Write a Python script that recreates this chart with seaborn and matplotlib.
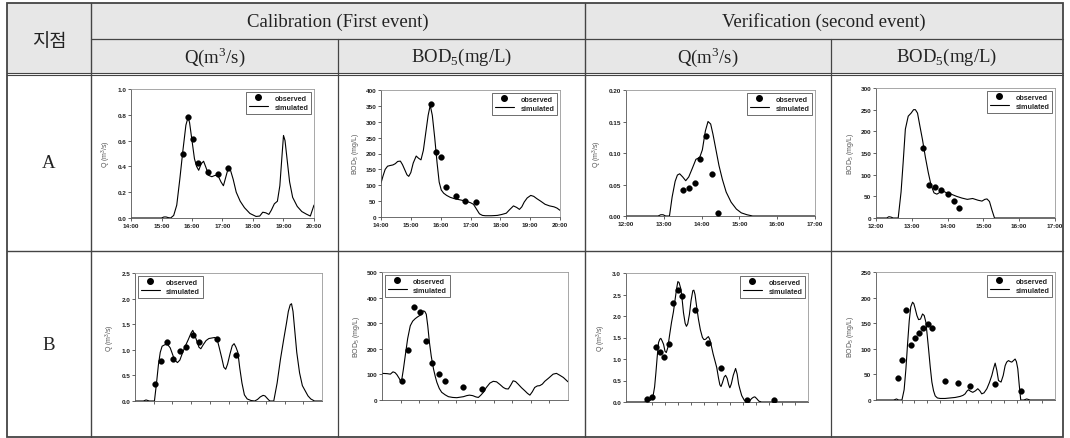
import matplotlib
matplotlib.use("Agg")
import matplotlib.pyplot as plt
import seaborn as sns
from matplotlib.lines import Line2D
from matplotlib.patches import Rectangle

# ------------------------------------------------
# Data
# ------------------------------------------------
# time ticks for site A
cal_hours = [14, 15, 16, 17, 18, 19, 20]
cal_labels = ["14:00", "15:00", "16:00", "17:00", "18:00", "19:00", "20:00"]
ver_hours = [12, 13, 14, 15, 16, 17]
ver_labels = ["12:00", "13:00", "14:00", "15:00", "16:00", "17:00"]

# A - calibration Q
a_cal_q_sim_t = [14.0, 15.0, 15.08, 15.15, 15.22, 15.3, 15.4, 15.5, 15.6, 15.7, 15.8, 15.87, 15.92,
                 16.0, 16.08, 16.15, 16.22, 16.3, 16.38, 16.46, 16.55, 16.65, 16.75, 16.85, 16.95,
                 17.03, 17.1, 17.18, 17.25, 17.35, 17.45, 17.58, 17.72, 17.9, 18.1, 18.22, 18.32,
                 18.42, 18.52, 18.6, 18.7, 18.8, 18.88, 18.95, 19.0, 19.05, 19.12, 19.2, 19.3,
                 19.45, 19.6, 19.75, 19.88, 20.0]
a_cal_q_sim = [0, 0, 0.008, 0.008, 0.003, 0, 0.02, 0.1, 0.3, 0.52, 0.72, 0.78, 0.74,
               0.6, 0.46, 0.4, 0.37, 0.42, 0.44, 0.39, 0.33, 0.32, 0.33, 0.33, 0.28,
               0.25, 0.31, 0.38, 0.38, 0.3, 0.2, 0.13, 0.08, 0.035, 0.012, 0.015, 0.045,
               0.04, 0.028, 0.06, 0.11, 0.13, 0.25, 0.48, 0.64, 0.6, 0.45, 0.28, 0.16,
               0.09, 0.05, 0.03, 0.015, 0.1]
a_cal_q_obs_t = [15.69, 15.87, 16.03, 16.2, 16.53, 16.86, 17.17]
a_cal_q_obs = [0.50, 0.78, 0.61, 0.43, 0.36, 0.34, 0.39]

# A - calibration BOD5
a_cal_b_sim_t = [14.0, 14.07, 14.14, 14.22, 14.3, 14.4, 14.48, 14.56, 14.65, 14.72,
                 14.8, 14.87, 14.93, 15.0, 15.08, 15.18, 15.26, 15.34, 15.42, 15.5,
                 15.58, 15.65, 15.72, 15.8, 15.88, 15.95, 16.02, 16.1, 16.2, 16.32,
                 16.45, 16.6, 16.75, 16.88, 17.0, 17.1, 17.2, 17.3, 17.4, 17.5,
                 17.7, 17.9, 18.05, 18.2, 18.3, 18.44, 18.55, 18.64, 18.72, 18.8,
                 18.9, 19.02, 19.12, 19.22, 19.35, 19.5, 19.65, 19.8, 19.9, 20.0]
a_cal_b_sim = [107, 130, 150, 160, 162, 164, 168, 175, 176, 165,
               148, 133, 128, 140, 170, 192, 185, 180, 210, 265,
               320, 352, 320, 250, 170, 110, 85, 75, 68, 62,
               58, 55, 52, 49, 45, 40, 25, 10, 5, 4,
               4, 5, 8, 12, 22, 35, 30, 24, 32, 47,
               60, 68, 65, 58, 50, 40, 35, 32, 28, 21]
a_cal_b_obs_t = [15.66, 15.85, 16.0, 16.18, 16.5, 16.83, 17.17]
a_cal_b_obs = [357, 205, 190, 94, 65, 51, 48]

# A - verification Q
a_ver_q_sim_t = [12.0, 12.85, 12.92, 12.98, 13.05, 13.15, 13.22, 13.3, 13.36, 13.42,
                 13.5, 13.58, 13.66, 13.75, 13.85, 13.95, 14.02, 14.1, 14.17, 14.24,
                 14.3, 14.38, 14.46, 14.55, 14.65, 14.78, 14.92, 15.05, 15.2, 15.35, 17.0]
a_ver_q_sim = [0, 0, 0.002, 0.002, 0, 0, 0.03, 0.055, 0.065, 0.067,
               0.062, 0.056, 0.062, 0.075, 0.09, 0.093, 0.105, 0.135, 0.150, 0.146,
               0.13, 0.105, 0.08, 0.058, 0.038, 0.022, 0.011, 0.005, 0.002, 0, 0]
a_ver_q_obs_t = [13.5, 13.67, 13.83, 13.97, 14.12, 14.28, 14.44]
a_ver_q_obs = [0.041, 0.044, 0.052, 0.090, 0.127, 0.066, 0.005]

# A - verification BOD5
a_ver_b_sim_t = [12.0, 12.3, 12.36, 12.42, 12.48, 12.62, 12.7, 12.76, 12.82, 12.9,
                 12.98, 13.05, 13.1, 13.16, 13.22, 13.3, 13.38, 13.46, 13.54, 13.62,
                 13.7, 13.8, 13.9, 14.0, 14.1, 14.25, 14.4, 14.55, 14.7, 14.85,
                 14.96, 15.04, 15.1, 15.17, 15.24, 15.31, 17.0]
a_ver_b_sim = [0, 0, 3, 2, 0, 0, 60, 130, 205, 235,
               242, 250, 250, 242, 215, 180, 140, 105, 75, 58,
               55, 60, 61, 57, 55, 50, 46, 43, 45, 41,
               39, 43, 44, 38, 18, 0, 0]
a_ver_b_obs_t = [13.32, 13.49, 13.65, 13.82, 14.0, 14.17, 14.32]
a_ver_b_obs = [162, 76, 72, 65, 56, 39, 22]

# B - calibration Q (unlabelled time steps)
b_cal_q_sim_t = [0, 0.45, 0.59, 0.77, 1.04, 1.15, 1.25, 1.35, 1.45, 1.6,
                 1.75, 1.88, 2.0, 2.12, 2.27, 2.4, 2.55, 2.7, 2.85, 3.0,
                 3.09, 3.18, 3.3, 3.42, 3.52, 3.65, 3.8, 3.95, 4.1, 4.25,
                 4.38, 4.5, 4.64, 4.75, 4.85, 4.95, 5.08, 5.2, 5.3, 5.4,
                 5.5, 5.6, 5.72, 5.85, 6.0, 6.2, 6.4, 6.55, 6.7, 6.85,
                 6.95, 7.05, 7.15, 7.22, 7.42, 7.6, 7.78, 7.95, 8.1, 8.2,
                 8.3, 8.37, 8.45, 8.55, 8.65, 8.8, 8.95, 9.1, 9.25, 9.4,
                 9.6, 9.8, 10.0]
b_cal_q_sim = [0, 0, 0.02, 0, 0, 0.35, 0.7, 0.95, 1.07, 1.1,
               1.1, 1.04, 0.92, 0.8, 0.75, 0.8, 0.95, 1.08, 1.2, 1.33,
               1.38, 1.3, 1.18, 1.05, 1.02, 1.1, 1.18, 1.22, 1.23, 1.24,
               1.22, 1.05, 0.84, 0.66, 0.62, 0.72, 0.92, 1.08, 1.12, 1.05,
               0.95, 0.65, 0.35, 0.12, 0.04, 0.01, 0, 0.03, 0.08, 0.11,
               0.1, 0.06, 0.02, 0, 0, 0.35, 0.82, 1.2, 1.52, 1.75,
               1.88, 1.9, 1.75, 1.35, 0.95, 0.55, 0.3, 0.2, 0.1, 0.04,
               0, 0, 0]
b_cal_q_obs_t = [1.05, 1.38, 1.73, 2.05, 2.41, 2.73, 3.09, 3.41, 4.41, 5.41]
b_cal_q_obs = [0.34, 0.79, 1.15, 0.82, 0.97, 1.05, 1.28, 1.16, 1.21, 0.90]

# B - calibration BOD5
b_cal_b_sim_t = [0, 0.27, 0.45, 0.59, 0.7, 0.8, 0.92, 1.04, 1.15, 1.25,
                 1.38, 1.52, 1.65, 1.79, 1.92, 2.05, 2.15, 2.22, 2.3, 2.38,
                 2.46, 2.55, 2.65, 2.77, 2.87, 2.95, 3.08, 3.21, 3.4, 3.57,
                 3.8, 4.02, 4.2, 4.38, 4.55, 4.7, 4.88, 5.05, 5.18, 5.3,
                 5.45, 5.6, 5.8, 5.98, 6.16, 6.35, 6.52, 6.65, 6.79, 6.92,
                 7.05, 7.18, 7.32, 7.5, 7.68, 7.82, 7.95, 8.08, 8.21, 8.35,
                 8.48, 8.62, 8.75, 8.95, 9.2, 9.38, 9.55, 9.75, 10.0]
b_cal_b_sim = [104, 103, 101, 110, 107, 99, 85, 69, 120, 173,
               240, 290, 308, 318, 325, 331, 338, 348, 346, 335,
               290, 225, 170, 121, 90, 69, 45, 30, 20, 13,
               10, 9, 11, 13, 17, 19, 17, 12, 10, 18,
               30, 48, 66, 73, 71, 60, 49, 44, 43, 58,
               75, 72, 62, 48, 36, 26, 19, 32, 49, 55,
               56, 62, 73, 85, 101, 104, 97, 88, 71]
b_cal_b_obs_t = [1.05, 1.38, 1.71, 2.05, 2.38, 2.71, 3.05, 3.39, 4.38, 5.36]
b_cal_b_obs = [74, 197, 364, 344, 232, 145, 100, 75, 52, 42]

# B - verification Q
b_ver_q_sim_t = [0, 1.35, 1.6, 1.87, 2.07, 2.2, 2.3, 2.4, 2.5, 2.6,
                 2.68, 2.78, 2.89, 3.0, 3.1, 3.22, 3.35, 3.5, 3.65, 3.78,
                 3.9, 3.99, 4.08, 4.22, 4.32, 4.42, 4.55, 4.65, 4.75, 4.88,
                 5.0, 5.14, 5.22, 5.31, 5.42, 5.57, 5.72, 5.88, 6.0, 6.13,
                 6.25, 6.34, 6.45, 6.54, 6.7, 6.85, 6.98, 7.12, 7.22, 7.31,
                 7.42, 7.55, 7.66, 7.78, 7.9, 7.99, 8.1, 8.25, 8.43, 8.55,
                 8.66, 8.76, 8.9, 9.1, 9.3, 9.4, 9.55, 9.66, 9.8, 9.91,
                 10.05, 10.22, 10.42, 14.0]
b_ver_q_sim = [0, 0, 0.01, 0.04, 0.12, 0.35, 0.68, 1.05, 1.38, 1.46,
               1.48, 1.42, 1.34, 1.18, 1.15, 1.27, 1.55, 1.85, 2.1, 2.39,
               2.65, 2.8, 2.78, 2.63, 2.38, 2.08, 1.83, 1.76, 1.82, 2.04,
               2.35, 2.59, 2.6, 2.5, 2.25, 1.93, 1.68, 1.5, 1.45, 1.46,
               1.5, 1.52, 1.45, 1.34, 1.12, 0.95, 0.8, 0.55, 0.4, 0.36,
               0.45, 0.58, 0.62, 0.55, 0.4, 0.33, 0.42, 0.62, 0.78, 0.65,
               0.42, 0.3, 0.15, 0.04, 0, 0, 0.04, 0.08, 0.11, 0.12,
               0.08, 0.02, 0, 0]
b_ver_q_obs_t = [1.64, 1.99, 2.3, 2.63, 2.96, 3.32, 3.65, 3.99, 4.29, 5.31, 6.34, 7.31, 9.33, 11.37]
b_ver_q_obs = [0.07, 0.11, 1.29, 1.17, 1.05, 1.36, 2.31, 2.61, 2.46, 2.14, 1.38, 0.78, 0.05, 0.05]

# B - verification BOD5
b_ver_b_sim_t = [0, 1.38, 1.5, 1.6, 1.77, 2.03, 2.2, 2.34, 2.47, 2.6,
                 2.72, 2.86, 2.96, 3.07, 3.2, 3.33, 3.48, 3.64, 3.77, 3.9,
                 4.0, 4.11, 4.24, 4.37, 4.5, 4.63, 4.8, 5.02, 5.4, 5.8,
                 6.2, 6.58, 6.8, 6.97, 7.1, 7.23, 7.4, 7.57, 7.78, 7.96,
                 8.12, 8.27, 8.45, 8.67, 8.87, 9.06, 9.2, 9.32, 9.45, 9.58,
                 9.78, 9.95, 10.1, 10.22, 10.36, 10.5, 10.62, 10.75, 10.88, 10.98,
                 11.09, 11.2, 11.32, 11.55, 11.79, 12.05, 14.0]
b_ver_b_sim = [0, 0, 1, 2, 0, 0, 20, 61, 110, 155,
               182, 191, 188, 178, 165, 157, 158, 168, 165, 152,
               128, 100, 65, 35, 18, 8, 4, 3, 3, 4,
               5, 7, 9, 12, 17, 20, 17, 15, 18, 22,
               18, 12, 14, 22, 34, 48, 62, 72, 58, 38,
               35, 48, 67, 74, 77, 75, 74, 77, 80, 75,
               61, 30, 0, 0, 2, 0, 0]
b_ver_b_obs_t = [1.69, 2.03, 2.34, 2.71, 3.02, 3.36, 3.7, 4.03, 4.37, 5.36, 6.38, 7.34, 9.34, 11.32]
b_ver_b_obs = [43, 78, 176, 108, 121, 130, 141, 148, 140, 37, 33, 28, 32, 18]

# ------------------------------------------------
# Style
# ------------------------------------------------
sns.set_style("ticks")
plt.rcParams['font.family'] = ['Liberation Sans', 'DejaVu Sans']

W, H = 1070, 439
fig = plt.figure(figsize=(W / 100, H / 100), dpi=100)

# ------------------------------------------------
# Table frame (pixel coordinates)
# ------------------------------------------------
tab = fig.add_axes([0, 0, 1, 1])
tab.set_xlim(0, W)
tab.set_ylim(H, 0)
tab.axis('off')

L, R, T, B = 7, 1063, 4, 438
tab.add_patch(Rectangle((L, T), R - L, 71, facecolor='#e7e7e7', edgecolor='none'))
lc = '#444444'
tab.add_patch(Rectangle((L, T), R - L, B - T, facecolor='none', edgecolor=lc, lw=1.3))
tab.plot([91, R], [40, 40], color=lc, lw=0.9)
tab.plot([L, R], [73.5, 73.5], color=lc, lw=0.8)
tab.plot([L, R], [76, 76], color=lc, lw=0.8)
tab.plot([L, R], [252, 252], color=lc, lw=1.0)
tab.plot([91, 91], [T, B], color=lc, lw=1.0)
tab.plot([585, 585], [T, B], color=lc, lw=1.0)
tab.plot([338, 338], [40, B], color=lc, lw=0.9)
tab.plot([831, 831], [40, B], color=lc, lw=0.9)

serif = ['Liberation Serif', 'DejaVu Serif']
hdr = dict(ha='center', va='center', fontsize=13.5, color='#222222', family=serif)
tab.text(49, 41, "지점", ha='center', va='center', fontsize=13.5, color='#222222',
         family=['Noto Sans CJK KR', 'DejaVu Sans'], fontweight='light')
tab.text(338, 22, "Calibration (First event)", **hdr)
tab.text(824, 22, "Verification (second event)", **hdr)
q_head = r"Q(m$^{\mathregular{3}}$/s)"
b_head = r"BOD$_{\mathregular{5}}$(mg/L)"
tab.text(214.5, 57, q_head, **hdr)
tab.text(461.5, 57, b_head, **hdr)
tab.text(708, 57, q_head, **hdr)
tab.text(947, 57, b_head, **hdr)
tab.text(49, 164, "A", **hdr)
tab.text(49, 346, "B", **hdr)


# ------------------------------------------------
# Chart helper
# ------------------------------------------------
def chart(box, sim_t, sim_y, obs_t, obs_y, yticks, ylabels, ylabel,
          xlim, xticks, xlabels, loc):
    l, r, t, b = box
    ax = fig.add_axes([l / W, 1 - b / H, (r - l) / W, (b - t) / H])
    sns.lineplot(x=sim_t, y=sim_y, ax=ax, color='black', lw=0.8,
                 sort=False, estimator=None)
    sns.scatterplot(x=obs_t, y=obs_y, ax=ax, color='black', s=17,
                    edgecolor='black', linewidth=0.3, zorder=3)
    ax.set_xlim(*xlim)
    ax.set_ylim(yticks[0], yticks[-1])
    ax.set_xticks(xticks)
    ax.set_xticklabels(xlabels)
    ax.set_yticks(yticks)
    ax.set_yticklabels(ylabels)
    ax.tick_params(axis='both', direction='out', length=2, width=0.5, pad=1.5,
                   labelsize=4.6, colors='#222222')
    for lab in ax.get_xticklabels() + ax.get_yticklabels():
        lab.set_fontweight('bold')
    ax.set_ylabel(ylabel, fontsize=5, color='#555555', labelpad=3)
    ax.set_xlabel("")
    for side in ['top', 'right']:
        ax.spines[side].set_color('#999999')
        ax.spines[side].set_linewidth(0.6)
    for side in ['left', 'bottom']:
        ax.spines[side].set_color('#555555')
        ax.spines[side].set_linewidth(0.6)
    handles = [Line2D([], [], marker='o', ls='', color='black', ms=4),
               Line2D([], [], color='black', lw=0.8)]
    leg = ax.legend(handles, ['observed', 'simulated'], loc=loc,
                    frameon=True, fancybox=False, edgecolor='black',
                    borderpad=0.4, labelspacing=0.25, handlelength=2.6,
                    handletextpad=0.9, borderaxespad=0.4,
                    prop={'weight': 'bold', 'size': 5.2})
    leg.get_frame().set_linewidth(0.5)
    return ax


q_label = r"Q (m$^{\mathregular{3}}$/s)"
b_label = r"BOD$_{\mathregular{5}}$ (mg/L)"

chart((131, 314, 90, 219), a_cal_q_sim_t, a_cal_q_sim, a_cal_q_obs_t, a_cal_q_obs,
      [0, 0.2, 0.4, 0.6, 0.8, 1.0], ["0.0", "0.2", "0.4", "0.6", "0.8", "1.0"], q_label,
      (14, 20), cal_hours, cal_labels, 'upper right')
chart((381, 560, 91, 218), a_cal_b_sim_t, a_cal_b_sim, a_cal_b_obs_t, a_cal_b_obs,
      [0, 50, 100, 150, 200, 250, 300, 350, 400],
      ["0", "50", "100", "150", "200", "250", "300", "350", "400"], b_label,
      (14, 20), cal_hours, cal_labels, 'upper right')
chart((626, 815, 91, 217), a_ver_q_sim_t, a_ver_q_sim, a_ver_q_obs_t, a_ver_q_obs,
      [0, 0.05, 0.10, 0.15, 0.20], ["0.00", "0.05", "0.10", "0.15", "0.20"], q_label,
      (12, 17), ver_hours, ver_labels, 'upper right')
chart((876, 1055, 89, 219), a_ver_b_sim_t, a_ver_b_sim, a_ver_b_obs_t, a_ver_b_obs,
      [0, 50, 100, 150, 200, 250, 300], ["0", "50", "100", "150", "200", "250", "300"],
      b_label, (12, 17), ver_hours, ver_labels, 'upper right')

chart((135, 322, 274, 402), b_cal_q_sim_t, b_cal_q_sim, b_cal_q_obs_t, b_cal_q_obs,
      [0, 0.5, 1.0, 1.5, 2.0, 2.5], ["0.0", "0.5", "1.0", "1.5", "2.0", "2.5"], q_label,
      (0, 10), list(range(1, 10)), [""] * 9, 'upper left')
chart((382, 568, 273, 401), b_cal_b_sim_t, b_cal_b_sim, b_cal_b_obs_t, b_cal_b_obs,
      [0, 100, 200, 300, 400, 500], ["0", "100", "200", "300", "400", "500"], b_label,
      (0, 10), list(range(1, 10)), [""] * 9, 'upper left')
chart((626, 808, 274, 403), b_ver_q_sim_t, b_ver_q_sim, b_ver_q_obs_t, b_ver_q_obs,
      [0, 0.5, 1.0, 1.5, 2.0, 2.5, 3.0], ["0.0", "0.5", "1.0", "1.5", "2.0", "2.5", "3.0"],
      q_label, (0, 14), list(range(2, 14)), [""] * 12, 'upper right')
chart((876, 1055, 273, 401), b_ver_b_sim_t, b_ver_b_sim, b_ver_b_obs_t, b_ver_b_obs,
      [0, 50, 100, 150, 200, 250], ["0", "50", "100", "150", "200", "250"], b_label,
      (0, 14), list(range(2, 14)), [""] * 12, 'upper right')

fig.savefig("out.png", dpi=100, facecolor='white')
